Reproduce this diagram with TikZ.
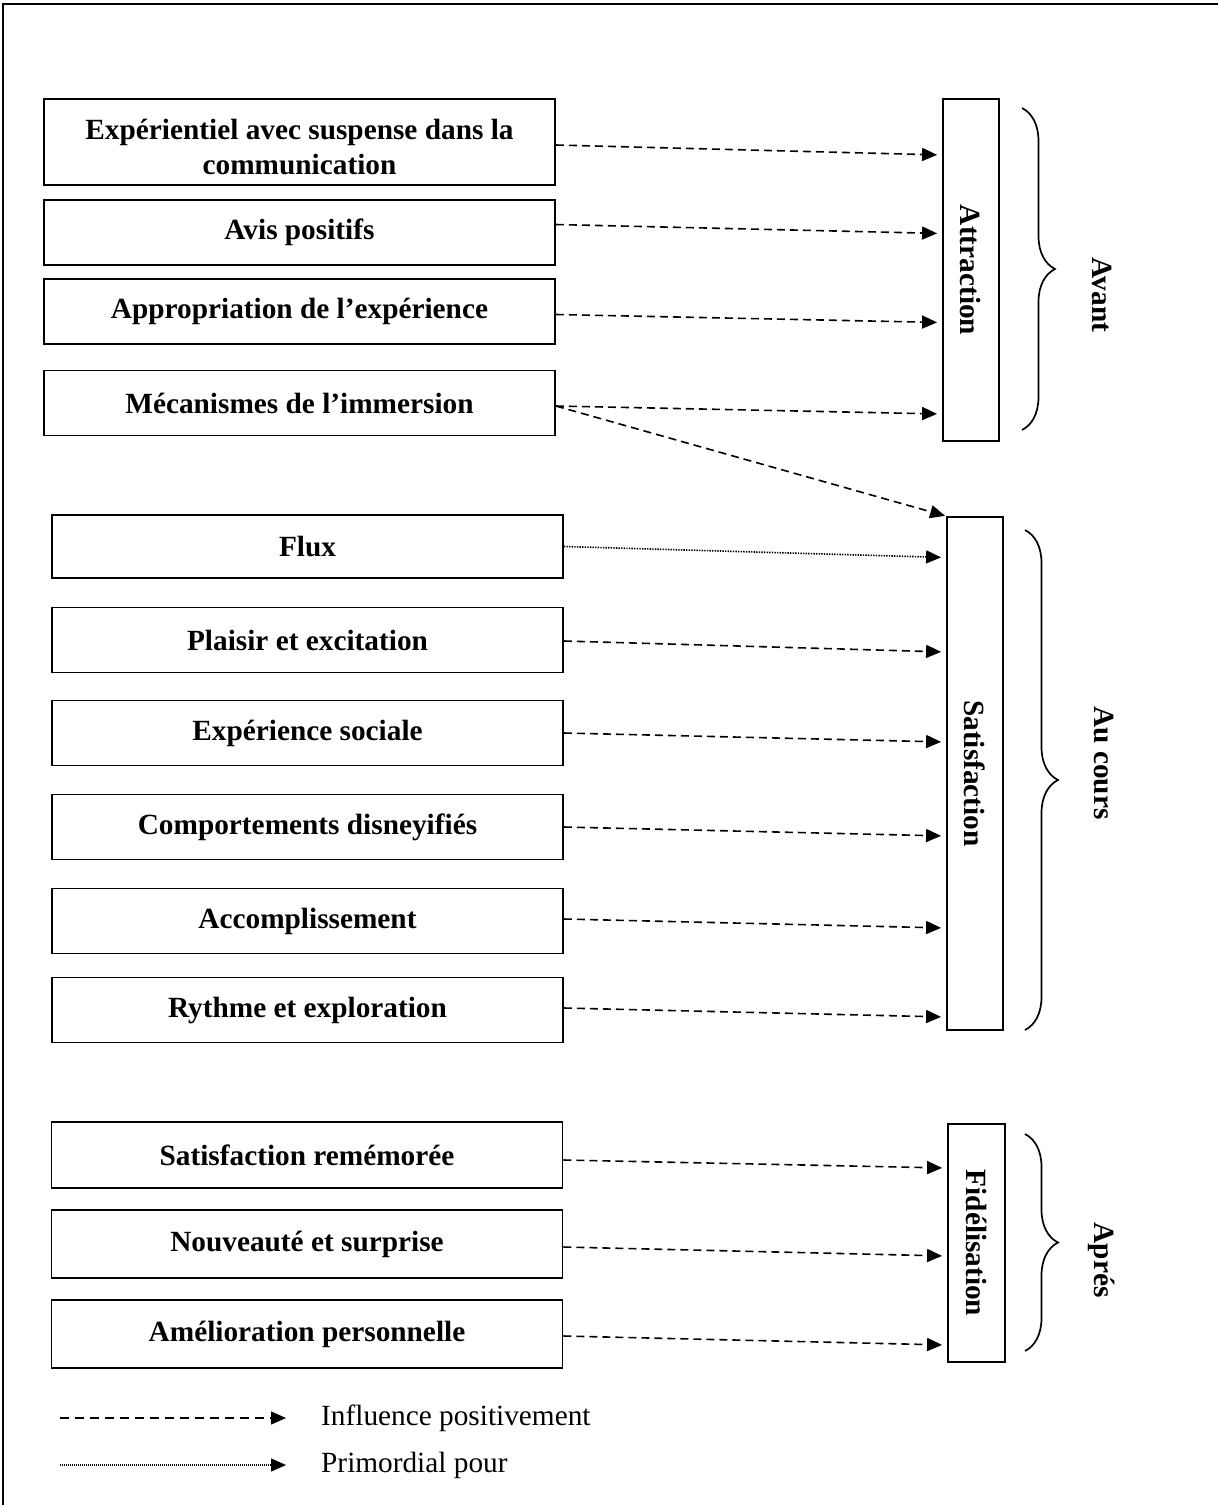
\documentclass[tikz,border=0pt]{standalone}
\usepackage{fontspec}
\setmainfont{Liberation Serif}
\usepackage{tikz}
\usetikzlibrary{positioning,calc,arrows.meta,decorations.pathreplacing}

\newcommand{\diagfont}{\fontsize{29.3}{35}\selectfont}

\tikzset{
  box/.style={draw, line width=1.8pt, minimum width=511pt, minimum height=65pt, inner sep=0pt, font=\diagfont\bfseries, align=center},
  phase/.style={draw, line width=1.8pt, minimum width=56pt, inner sep=0pt},
  vtext/.style={rotate=-90, inner sep=0pt, font=\diagfont\bfseries},
  infl/.style={line width=1.6pt, dash pattern=on 8pt off 5pt, shorten >=5pt, -{Triangle[length=15pt,width=13pt]}},
  prim/.style={line width=1.6pt, dash pattern=on 1.4pt off 1.2pt, shorten >=5pt, -{Triangle[length=15pt,width=13pt]}},
  accol/.style={line width=1.7pt, decorate, decoration={brace, amplitude=33pt}},
  legtext/.style={anchor=west, inner sep=0pt, font=\diagfont}
}

\begin{document}
\begin{tikzpicture}[x=1pt, y=-1pt]
    \useasboundingbox (0,0) rectangle (1218,1505);
    \draw[line width=2pt] (3,1505) -- (3,4) -- (1218,4);

    % avant
    \node[box, minimum height=86pt] (a1) at (299.5,142) {};
    \node[align=center, inner sep=0pt, font=\diagfont\bfseries] (ta1) at ([yshift=-5pt]a1.center) {Expérientiel avec suspense dans la\\communication};
    \node[box] (a2) at (299.5,232.5) {Avis positifs};
    \node[box] (a3) at (299.5,311.5) {Appropriation de l’expérience};
    \node[box] (a4) at (299.5,403) {Mécanismes de l’immersion};
    \node[phase, minimum height=342pt] (attr) at (971,270) {};
    \node[vtext] (tattr) at (attr) {Attraction};

    % au cours
    \node[box, minimum height=63pt] (b1) at (307.5,546.5) {Flux};
    \node[box] (b2) at (307.5,640) {Plaisir et excitation};
    \node[box] (b3) at (307.5,733) {Expérience sociale};
    \node[box] (b4) at (307.5,827) {Comportements disneyifiés};
    \node[box] (b5) at (307.5,921) {Accomplissement};
    \node[box] (b6) at (307.5,1010) {Rythme et exploration};
    \node[phase, minimum height=513pt] (sat) at (975,773.5) {};
    \node[vtext] (tsat) at (sat) {Satisfaction};

    % apres
    \node[box, minimum height=66pt] (c1) at (307,1155) {Satisfaction remémorée};
    \node[box, minimum height=68pt] (c2) at (307,1244) {Nouveauté et surprise};
    \node[box, minimum height=68pt] (c3) at (307,1334) {Amélioration personnelle};
    \node[phase, minimum width=57pt, minimum height=238pt] (fid) at (976.5,1243) {};
    \node[vtext] (tfid) at (fid) {Fidélisation};

    \foreach \n/\s/\e in {a1/-3/-13, a2/8/-1, a3/-3/-11, a4/-3/-11}
        \draw[infl] ([yshift=\s pt]\n.east) -- ([yshift=\e pt]\n.east -| attr.west);
    \draw[infl, shorten >=1pt] ([yshift=-3pt]a4.east) -- (sat.north west);
    \draw[prim] (b1.east) -- ([yshift=-11pt]b1.east -| sat.west);
    \foreach \n/\s/\e in {b2/-1/-12, b3/0/-9, b4/0/-9, b5/2/-7, b6/2/-7}
        \draw[infl] ([yshift=\s pt]\n.east) -- ([yshift=\e pt]\n.east -| sat.west);
    \foreach \n/\s/\e in {c1/-5/-13, c2/-3/-12, c3/-2/-11}
        \draw[infl] ([yshift=\s pt]\n.east) -- ([yshift=\e pt]\n.east -| fid.west);

    % accolades
    \draw[accol] (1022,108) -- (1022,430);
    \draw[accol] (1025,530) -- (1025,1030);
    \draw[accol] (1025,1134) -- (1025,1351);
    \node[vtext] (tavant) at (1102,295) {Avant};
    \node[vtext] (tcours) at (1104,763) {Au cours};
    \node[vtext] (tapres) at (1102,1260) {Aprés};

    % legende
    \node[legtext] (linfl) at (321,1418) {Influence positivement};
    \node[legtext] (lprim) at (321,1465) {Primordial pour};
    \coordinate (l1) at (60,1418);
    \coordinate (l2) at (60,1465);
    \draw[infl, line width=1.3pt, dash pattern=on 9pt off 6pt, shorten >=35pt] (l1) -- (linfl.west);
    \draw[prim, line width=1.3pt, dash pattern=on 1pt off 1pt, shorten >=35pt] (l2) -- (lprim.west);
\end{tikzpicture}
\end{document}
